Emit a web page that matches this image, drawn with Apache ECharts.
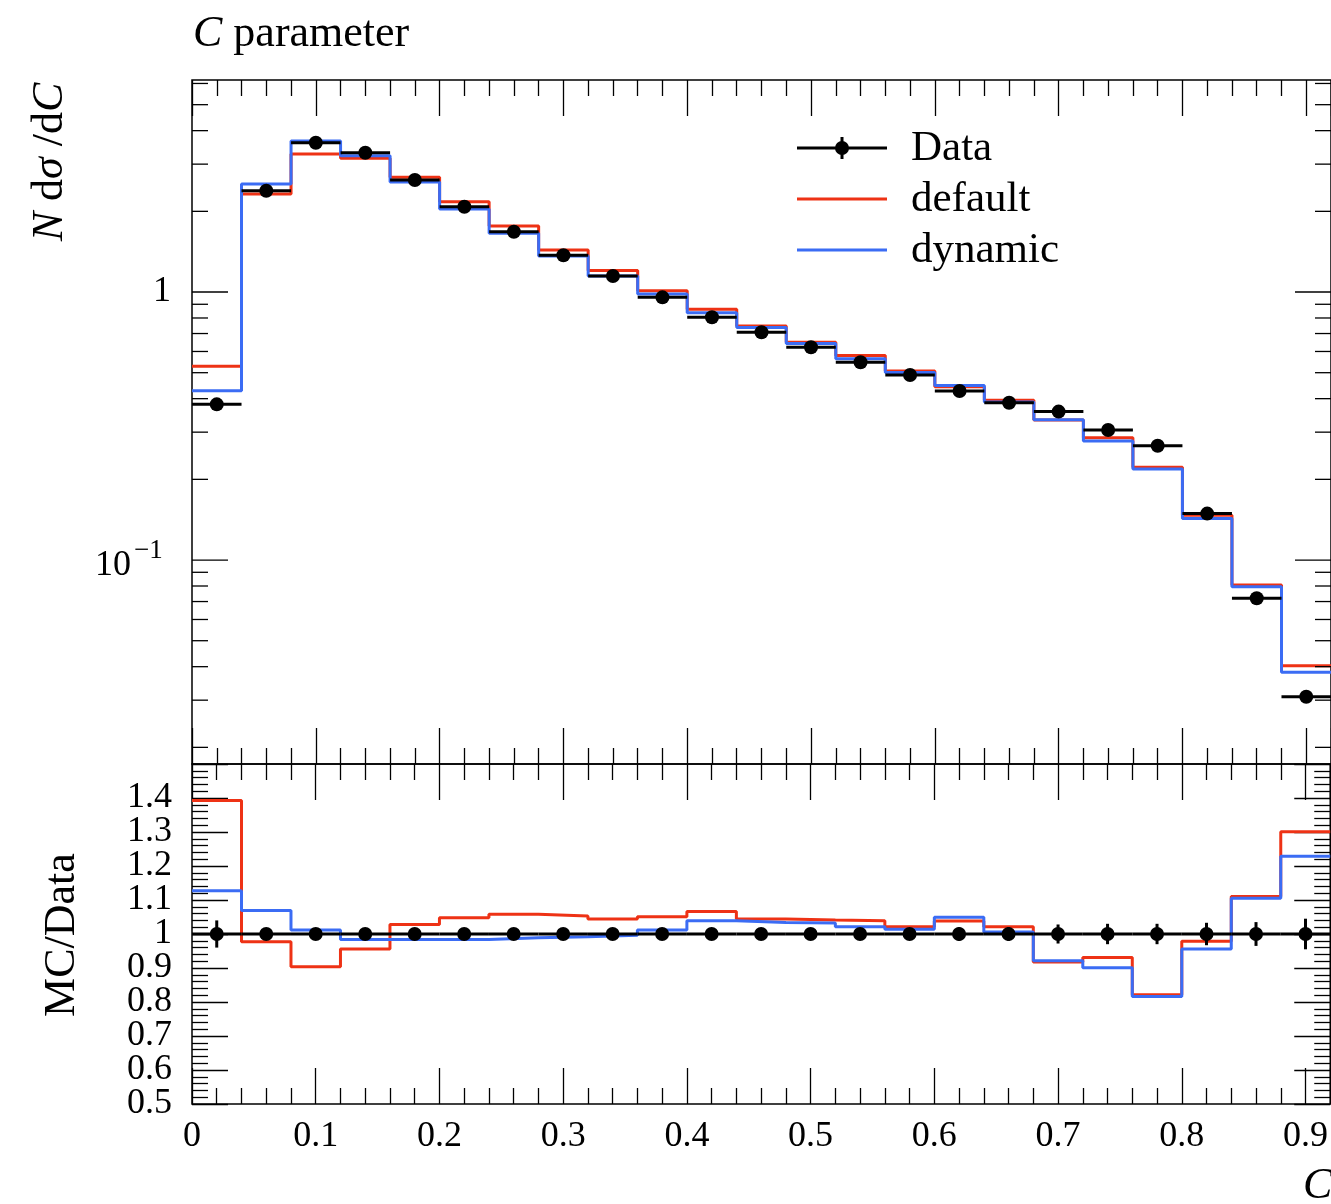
<!DOCTYPE html>
<html>
<head>
<meta charset="utf-8">
<title>C parameter</title>
<script src="https://cdn.jsdelivr.net/npm/echarts@6/dist/echarts.min.js"></script>
<style>
  html, body { margin: 0; padding: 0; background: #fff; }
  #chart { width: 1331px; height: 1204px; }
</style>
</head>
<body>
<div id="chart"></div>
<script>
// Bin edges of the C-parameter histogram
const binEdges = [0, 0.04, 0.08, 0.12, 0.16, 0.20, 0.24, 0.28, 0.32, 0.36, 0.40, 0.44,
                  0.48, 0.52, 0.56, 0.60, 0.64, 0.68, 0.72, 0.76, 0.80, 0.84, 0.88, 0.92];

// Measured distribution N dσ/dC and its relative uncertainty
const dataValues = [0.381, 2.388, 3.607, 3.31, 2.617, 2.08, 1.679, 1.371, 1.147, 0.955, 0.805, 0.708,
                    0.622, 0.547, 0.490, 0.427, 0.386, 0.358, 0.3055, 0.267, 0.149, 0.0720, 0.0309];
const dataRelErr = [0.04, 0.01, 0.01, 0.01, 0.01, 0.01, 0.01, 0.01, 0.01, 0.01, 0.01, 0.01,
                    0.01, 0.012, 0.015, 0.02, 0.02, 0.028, 0.03, 0.03, 0.033, 0.035, 0.045];

// Monte Carlo predictions
const defaultValues = [0.529, 2.322, 3.273, 3.155, 2.679, 2.173, 1.763, 1.435, 1.202, 1.011, 0.862, 0.747,
                       0.649, 0.579, 0.507, 0.443, 0.395, 0.333, 0.286, 0.222, 0.147, 0.0807, 0.0403];
const dynamicValues = [0.428, 2.53, 3.66, 3.226, 2.573, 2.04, 1.656, 1.362, 1.147, 0.983, 0.837, 0.738,
                       0.643, 0.564, 0.501, 0.448, 0.389, 0.334, 0.278, 0.2186, 0.143, 0.0795, 0.0381];

// MC / Data ratios
const defaultRatio = [1.393, 0.977, 0.904, 0.956, 1.028, 1.048, 1.058, 1.053, 1.044, 1.051, 1.066, 1.044,
                      1.041, 1.039, 1.021, 1.038, 1.021, 0.918, 0.931, 0.821, 0.979, 1.110, 1.301];
const dynamicRatio = [1.127, 1.069, 1.012, 0.984, 0.984, 0.984, 0.989, 0.992, 0.996, 1.012, 1.039, 1.034,
                      1.032, 1.021, 1.014, 1.049, 1.006, 0.921, 0.901, 0.816, 0.956, 1.105, 1.229];

// Tick labels of the ratio panel
const ratioTickLabels = ['0.5', '0.6', '0.7', '0.8', '0.9', '1', '1.1', '1.2', '1.3', '1.4'];

// Log-axis ticks of the upper panel
const logMajorTicks = [0.1, 1];
const logMinorTicks = [0.02, 0.03, 0.04, 0.05, 0.06, 0.07, 0.08, 0.09,
                       0.2, 0.3, 0.4, 0.5, 0.6, 0.7, 0.8, 0.9, 2, 3, 4, 5, 6];

const FONT = 'Liberation Serif';
const RED = '#ee3215';
const BLUE = '#3b6cf4';
const MAJOR_LEN = 36, MINOR_LEN = 16;

function stepPoints(vals) {
  const pts = vals.map((v, i) => [binEdges[i], v]);
  pts.push([binEdges[vals.length], vals[vals.length - 1]]);
  return pts;
}

function pointRows(vals, errs) {
  return vals.map((v, i) => [
    (binEdges[i] + binEdges[i + 1]) / 2, v, errs[i], binEdges[i], binEdges[i + 1]
  ]);
}

function renderDataPoint(params, api) {
  const xc = api.value(0), y = api.value(1), e = api.value(2);
  const lo = api.value(3), hi = api.value(4);
  const pL = api.coord([lo, y]), pR = api.coord([hi, y]), pC = api.coord([xc, y]);
  const pT = api.coord([xc, y + e]), pB = api.coord([xc, y - e]);
  const st = { stroke: '#000', lineWidth: 3 };
  return {
    type: 'group',
    children: [
      { type: 'line', shape: { x1: pL[0], y1: pL[1], x2: pR[0], y2: pR[1] }, style: st },
      { type: 'line', shape: { x1: pT[0], y1: pT[1], x2: pB[0], y2: pB[1] }, style: st },
      { type: 'circle', shape: { cx: pC[0], cy: pC[1], r: 7 }, style: { fill: '#000' } }
    ]
  };
}

// Ticks (both sides) and labels of the logarithmic axis
function renderLogTick(params, api) {
  const v = api.value(1);
  const major = api.value(2) === 1;
  const cs = params.coordSys;
  const y = api.coord([0, v])[1];
  const len = major ? MAJOR_LEN : MINOR_LEN;
  const st = { stroke: '#000', lineWidth: 1.3 };
  const children = [
    { type: 'line', shape: { x1: cs.x, y1: y, x2: cs.x + len, y2: y }, style: st },
    { type: 'line', shape: { x1: cs.x + cs.width - len, y1: y, x2: cs.x + cs.width, y2: y }, style: st }
  ];
  if (major) {
    const exp = Math.round(Math.log10(v));
    if (exp === 0) {
      children.push({ type: 'text', x: cs.x - 21, y: y,
        style: { text: '1', align: 'right', verticalAlign: 'middle', fontSize: 36, fontFamily: FONT, fill: '#000' } });
    } else {
      children.push({ type: 'text', x: cs.x - 61, y: y + 6,
        style: { text: '10', align: 'right', verticalAlign: 'middle', fontSize: 36, fontFamily: FONT, fill: '#000' } });
      children.push({ type: 'text', x: cs.x - 58, y: y - 9,
        style: { text: '\u2212' + Math.abs(exp), align: 'left', verticalAlign: 'middle', fontSize: 27, fontFamily: FONT, fill: '#000' } });
    }
  }
  return { type: 'group', children };
}

// Tick labels of the linear ratio axis
function renderRatioLabel(params, api) {
  const v = api.value(1);
  const cs = params.coordSys;
  const y = api.coord([0, v])[1];
  return { type: 'text', x: cs.x - 20, y: y,
    style: { text: ratioTickLabels[params.dataIndex], align: 'right', verticalAlign: 'middle',
             fontSize: 36, fontFamily: FONT, fill: '#000' } };
}

const logTickRows = logMinorTicks.map(v => [0, v, 0]).concat(logMajorTicks.map(v => [0, v, 1]));
const ratioLabelRows = ratioTickLabels.map(s => [0, parseFloat(s)]);

const tickStyle = { color: '#000', width: 1.3 };

function xAxisDef(gridIndex, position, withLabels) {
  return {
    gridIndex, type: 'value', min: 0, max: 0.92, interval: 0.1, position,
    axisLine: { show: false, onZero: false },
    splitLine: { show: false },
    axisTick: { show: true, inside: true, length: MAJOR_LEN, lineStyle: tickStyle },
    minorTick: { show: true, splitNumber: 5, length: MINOR_LEN, lineStyle: tickStyle },
    axisLabel: withLabels
      ? { show: true, margin: 15, fontSize: 36, fontFamily: FONT, color: '#000', showMinLabel: true, showMaxLabel: false, hideOverlap: false }
      : { show: false }
  };
}

function ratioYAxis(position) {
  return {
    gridIndex: 1, type: 'value', min: 0.5, max: 1.5, interval: 0.1, position,
    axisLine: { show: false, onZero: false },
    splitLine: { show: false },
    axisTick: { show: true, inside: true, length: MAJOR_LEN, lineStyle: tickStyle },
    minorTick: { show: true, splitNumber: 5, length: MINOR_LEN, lineStyle: tickStyle },
    axisLabel: { show: false }
  };
}

const chart = echarts.init(document.getElementById('chart'), null, { renderer: 'canvas' });

const legendRows = [
  { name: 'Data', y: 148 },
  { name: 'default', y: 199, color: RED },
  { name: 'dynamic', y: 250, color: BLUE }
];

const legendGraphics = [];
legendRows.forEach(r => {
  if (r.color) {
    legendGraphics.push({ type: 'line', shape: { x1: 797, y1: r.y, x2: 887, y2: r.y }, style: { stroke: r.color, lineWidth: 3 } });
  } else {
    legendGraphics.push({ type: 'line', shape: { x1: 797, y1: r.y, x2: 887, y2: r.y }, style: { stroke: '#000', lineWidth: 3 } });
    legendGraphics.push({ type: 'line', shape: { x1: 842, y1: r.y - 11, x2: 842, y2: r.y + 11 }, style: { stroke: '#000', lineWidth: 3 } });
    legendGraphics.push({ type: 'circle', shape: { cx: 842, cy: r.y, r: 7 }, style: { fill: '#000' } });
  }
  legendGraphics.push({ type: 'text', x: 911, y: r.y + 1,
    style: { text: r.name, verticalAlign: 'middle', fontSize: 43, fontFamily: FONT, fill: '#000' } });
});

const italic = { fontStyle: 'italic', fontSize: 44, fontFamily: FONT, fill: '#000' };

chart.setOption({
  animation: false,
  backgroundColor: '#fff',
  grid: [
    { left: 192, top: 80, width: 1141, height: 684, show: true, borderColor: '#000', borderWidth: 1.5, backgroundColor: 'transparent' },
    { left: 192, top: 764, width: 1141, height: 340, show: true, borderColor: '#000', borderWidth: 1.5, backgroundColor: 'transparent' }
  ],
  xAxis: [
    xAxisDef(0, 'bottom', false),
    xAxisDef(0, 'top', false),
    xAxisDef(1, 'bottom', true),
    xAxisDef(1, 'top', false)
  ],
  yAxis: [
    { gridIndex: 0, type: 'log', logBase: 10, min: 0.017336, max: 6.181,
      axisLine: { show: false, onZero: false }, axisTick: { show: false }, axisLabel: { show: false },
      splitLine: { show: false }, minorTick: { show: false } },
    ratioYAxis('left'),
    ratioYAxis('right')
  ],
  graphic: [
    { type: 'text', x: 193, y: 34,
      style: { text: '{i|C} parameter', verticalAlign: 'middle', fontSize: 44, fontFamily: FONT, fill: '#000', rich: { i: italic } } },
    { type: 'text', x: 50, y: 162, rotation: Math.PI / 2,
      style: { text: '{i|N} d{i|σ} /d{i|C}', align: 'center', verticalAlign: 'middle', fontSize: 44, fontFamily: FONT, fill: '#000', rich: { i: italic } } },
    { type: 'text', x: 62, y: 935, rotation: Math.PI / 2,
      style: { text: 'MC/Data', align: 'center', verticalAlign: 'middle', fontSize: 44, fontFamily: FONT, fill: '#000' } },
    { type: 'text', x: 1303, y: 1186,
      style: { text: 'C', verticalAlign: 'middle', fontSize: 44, fontStyle: 'italic', fontFamily: FONT, fill: '#000' } }
  ].concat(legendGraphics),
  series: [
    { name: 'default', type: 'line', xAxisIndex: 0, yAxisIndex: 0, step: 'end', symbol: 'none',
      data: stepPoints(defaultValues), lineStyle: { color: RED, width: 3 }, z: 2 },
    { name: 'dynamic', type: 'line', xAxisIndex: 0, yAxisIndex: 0, step: 'end', symbol: 'none',
      data: stepPoints(dynamicValues), lineStyle: { color: BLUE, width: 3 }, z: 2 },
    { name: 'Data', type: 'custom', xAxisIndex: 0, yAxisIndex: 0, z: 3,
      data: pointRows(dataValues, dataValues.map((v, i) => v * dataRelErr[i])),
      encode: { x: 0, y: 1 }, renderItem: renderDataPoint },
    { name: 'default ratio', type: 'line', xAxisIndex: 2, yAxisIndex: 1, step: 'end', symbol: 'none',
      data: stepPoints(defaultRatio), lineStyle: { color: RED, width: 3 }, z: 2 },
    { name: 'dynamic ratio', type: 'line', xAxisIndex: 2, yAxisIndex: 1, step: 'end', symbol: 'none',
      data: stepPoints(dynamicRatio), lineStyle: { color: BLUE, width: 3 }, z: 2 },
    { name: 'Data ratio', type: 'custom', xAxisIndex: 2, yAxisIndex: 1, z: 3,
      data: pointRows(dataValues.map(() => 1), dataRelErr),
      encode: { x: 0, y: 1 }, renderItem: renderDataPoint },
    { name: 'log ticks', type: 'custom', xAxisIndex: 0, yAxisIndex: 0, z: 4, clip: false,
      data: logTickRows, encode: { x: 0, y: 1 }, renderItem: renderLogTick, silent: true },
    { name: 'ratio labels', type: 'custom', xAxisIndex: 2, yAxisIndex: 1, z: 4, clip: false,
      data: ratioLabelRows, encode: { x: 0, y: 1 }, renderItem: renderRatioLabel, silent: true }
  ]
});
</script>
</body>
</html>
